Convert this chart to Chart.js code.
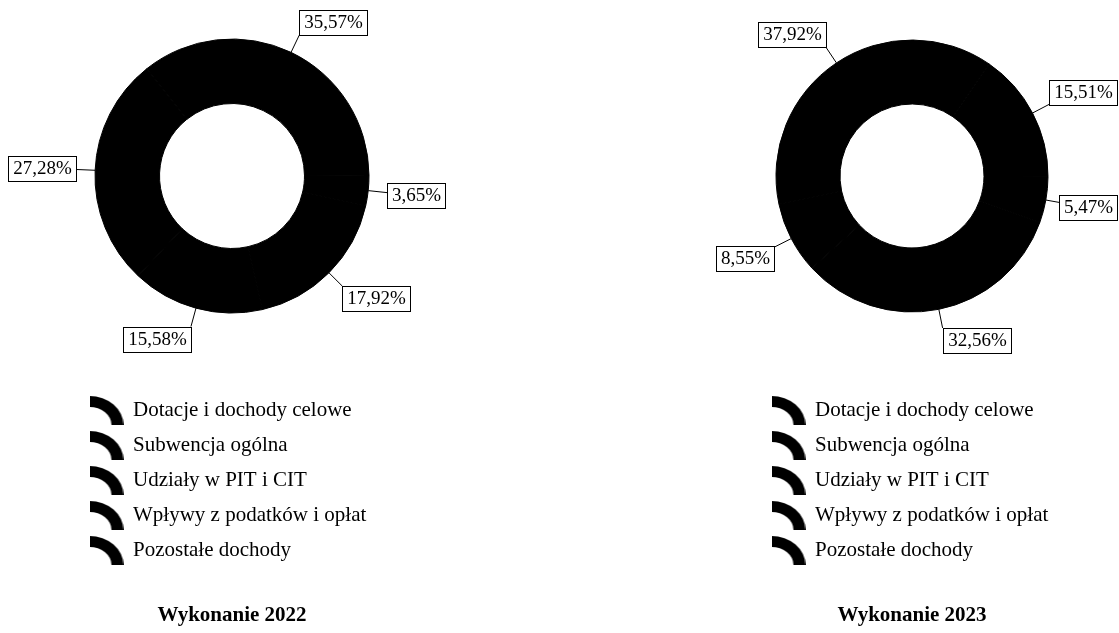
<!DOCTYPE html>
<html>
<head>
<meta charset="utf-8">
<script src="https://cdn.jsdelivr.net/npm/chart.js@4"></script>
<style>
  html, body { margin: 0; padding: 0; background: #fff; overflow: hidden; }
  body { width: 1119px; height: 633px; position: relative; }
  canvas { position: absolute; top: -40px; }
  #chart2022 { left: 0; }
  #chart2023 { left: 600px; }
</style>
</head>
<body>
<canvas id="chart2022" width="600" height="673"></canvas>
<canvas id="chart2023" width="519" height="673"></canvas>
<script>
const categories = [
  "Dotacje i dochody celowe",
  "Subwencja ogólna",
  "Udziały w PIT i CIT",
  "Wpływy z podatków i opłat",
  "Pozostałe dochody",
];
const values2022 = [35.57, 3.65, 17.92, 15.58, 27.28];
const values2023 = [37.92, 15.51, 5.47, 32.56, 8.55];
const titles = ["Wykonanie 2022", "Wykonanie 2023"];

const serif = "'Liberation Serif', 'Times New Roman', serif";
Chart.defaults.color = "#000";
Chart.defaults.font.family = serif;

// legend marker: a quarter of a thick ring, like in the original
function makeIcon() {
  const c = document.createElement("canvas");
  c.width = 34;
  c.height = 29;
  const g = c.getContext("2d");
  g.fillStyle = "#000";
  g.beginPath();
  g.ellipse(0, 29, 34, 29, 0, -Math.PI / 2, 0);
  g.ellipse(0, 29, 22, 18, 0, 0, -Math.PI / 2, true);
  g.closePath();
  g.fill();
  return c;
}
const icon = makeIcon();

// boxed percentage labels with leader lines
const boxLabels = {
  id: "boxLabels",
  afterDatasetsDraw(chart) {
    const ctx = chart.ctx;
    const meta = chart.getDatasetMeta(0);
    const values = chart.data.datasets[0].data;
    ctx.save();
    ctx.font = "19px " + serif;
    ctx.textAlign = "center";
    ctx.textBaseline = "middle";
    ctx.strokeStyle = "#000";
    ctx.lineWidth = 1;
    meta.data.forEach((arc, i) => {
      const p = arc.getProps(["x", "y", "startAngle", "endAngle", "outerRadius"], true);
      const mid = (p.startAngle + p.endAngle) / 2;
      const cos = Math.cos(mid);
      const sin = Math.sin(mid);
      const r1 = p.outerRadius + 19;
      const ax = p.x + r1 * cos;
      const ay = p.y + r1 * sin;
      const text = values[i].toFixed(2).replace(".", ",") + "%";
      const w = Math.round(ctx.measureText(text).width) + 9;
      const h = 25;
      let left = Math.round(cos >= 0 ? ax : ax - w);
      left = Math.min(left, chart.width - w - 2);
      const cy = ay + (h / 2) * Math.max(-1, Math.min(1, 2 * sin));
      const top = Math.round(cy - h / 2);

      ctx.beginPath();
      ctx.moveTo(p.x + p.outerRadius * cos, p.y + p.outerRadius * sin);
      ctx.lineTo(Math.min(ax, left + w), ay);
      ctx.stroke();

      ctx.fillStyle = "#fff";
      ctx.fillRect(left, top, w, h);
      ctx.strokeRect(left + 0.5, top + 0.5, w, h);
      ctx.fillStyle = "#000";
      ctx.fillText(text, left + w / 2 + 0.5, top + h / 2 + 1);
    });
    ctx.restore();
  },
};

function makeChart(id, values, title, rotation, radius, cutout, padLeft, padRight) {
  return new Chart(document.getElementById(id), {
    type: "doughnut",
    data: {
      labels: categories,
      datasets: [
        {
          data: values,
          backgroundColor: "#000",
          borderColor: "#000",
          borderWidth: 1,
          hoverOffset: 0,
        },
      ],
    },
    options: {
      responsive: false,
      animation: false,
      rotation: rotation,
      radius: radius,
      cutout: cutout,
      layout: {
        padding: { left: padLeft, right: padRight, top: 6, bottom: 4.8 },
      },
      plugins: {
        legend: {
          position: "bottom",
          align: "start",
          labels: {
            usePointStyle: true,
            pointStyle: icon,
            pointStyleWidth: 32,
            padding: 14,
            font: { size: 21, family: serif },
          },
        },
        title: {
          display: true,
          position: "bottom",
          text: title,
          font: { size: 21, weight: "bold", family: serif },
          padding: { top: 32, bottom: 0 },
        },
        tooltip: { enabled: false },
      },
    },
    plugins: [boxLabels],
  });
}

makeChart("chart2022", values2022, titles[0], -38.5, 137, 82, 76.5, 212.5);
makeChart("chart2023", values2023, titles[1], -102, 136, 81, 158.5, 53.5);
</script>
</body>
</html>
